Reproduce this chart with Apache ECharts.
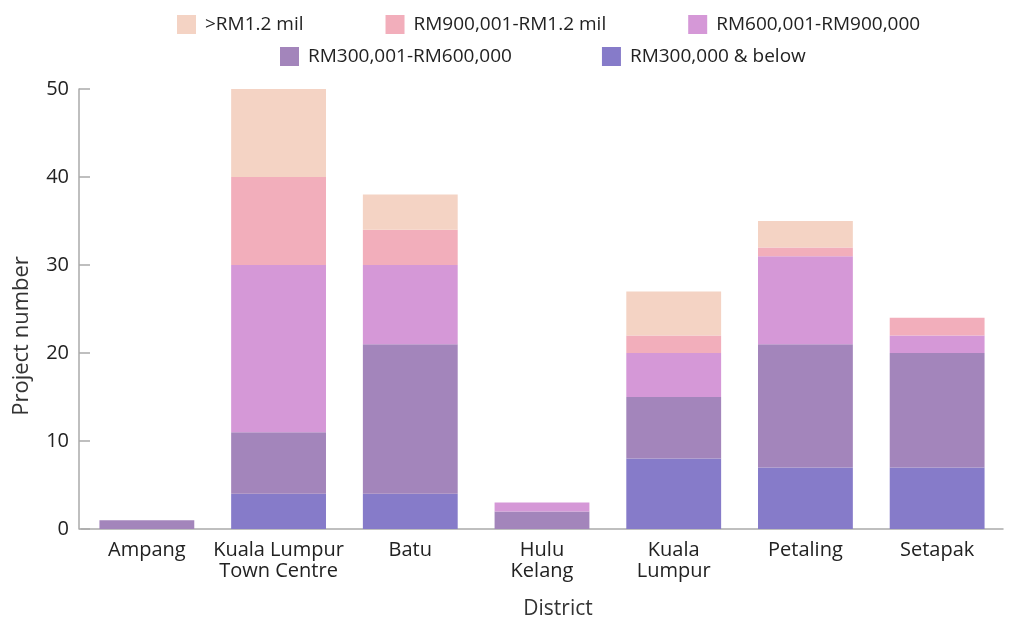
<!DOCTYPE html>
<html>
<head>
<meta charset="utf-8">
<script src="https://cdn.jsdelivr.net/npm/echarts@6/dist/echarts.min.js"></script>
<style>html,body{margin:0;padding:0;background:#fff;}#c{width:1013px;height:618px;}</style>
</head>
<body>
<div id="c"></div>
<script>
const categories = ['Ampang', 'Kuala Lumpur\nTown Centre', 'Batu', 'Hulu\nKelang', 'Kuala\nLumpur', 'Petaling', 'Setapak'];
const below300k = [0, 4, 4, 0, 8, 7, 7];
const rm300to600k = [1, 7, 17, 2, 7, 14, 13];
const rm600to900k = [0, 19, 9, 1, 5, 10, 2];
const rm900kto12m = [0, 10, 4, 0, 2, 1, 2];
const above12m = [0, 10, 4, 0, 5, 3, 0];
const yTicks = [0, 10, 20, 30, 40, 50];

const names = ['RM300,000 & below', 'RM300,001-RM600,000', 'RM600,001-RM900,000', 'RM900,001-RM1.2 mil', '>RM1.2 mil'];
const colors = ['#867bc9', '#a385bb', '#d598d7', '#f2aebb', '#f4d3c4'];
const values = [below300k, rm300to600k, rm600to900k, rm900kto12m, above12m];

const font = 'Open Sans';
const chart = echarts.init(document.getElementById('c'));
const legendCommon = {
  itemWidth: 19, itemHeight: 19, icon: 'rect',
  textStyle: { fontFamily: font, fontSize: 19, color: '#222', padding: [0, 0, 0, 4] }
};
chart.setOption({
  animation: false,
  textStyle: { fontFamily: font },
  legend: [
    Object.assign({ left: 172, top: 10, itemGap: 82, data: ['>RM1.2 mil', 'RM900,001-RM1.2 mil', 'RM600,001-RM900,000'] }, legendCommon),
    Object.assign({ left: 275, top: 42, itemGap: 90, data: ['RM300,001-RM600,000', 'RM300,000 & below'] }, legendCommon)
  ],
  grid: { left: 81, right: 10, top: 89, bottom: 89, containLabel: false, outerBoundsMode: 'none' },
  xAxis: {
    type: 'category', data: categories,
    name: 'District', nameLocation: 'middle', nameGap: 70,
    nameTextStyle: { fontFamily: font, fontSize: 21, color: '#333', padding: [0, 0, 0, 32] },
    axisLine: { lineStyle: { color: '#aaa', width: 1.5 } },
    axisTick: { show: false },
    axisLabel: { fontFamily: font, fontSize: 20, color: '#222', margin: 11, lineHeight: 21, interval: 0 }
  },
  yAxis: {
    type: 'value', min: 0, max: 50, interval: 10, offset: 2,
    name: 'Project number', nameLocation: 'middle', nameGap: 46,
    nameTextStyle: { fontFamily: font, fontSize: 22, color: '#333', padding: [0, 54, 0, 0] },
    axisLine: { show: true, lineStyle: { color: '#aaa', width: 1.5 } },
    axisTick: { show: true, inside: true, length: 11, lineStyle: { color: '#aaa', width: 1.5 } },
    splitLine: { show: false },
    axisLabel: { fontFamily: font, fontSize: 20, color: '#222', margin: 10,
      formatter: v => yTicks.includes(v) ? String(v) : '' }
  },
  series: names.map((n, i) => ({
    name: n, type: 'bar', stack: 'total', data: values[i],
    barCategoryGap: '28%',
    itemStyle: { color: colors[i] }
  }))
});
</script>
</body>
</html>
